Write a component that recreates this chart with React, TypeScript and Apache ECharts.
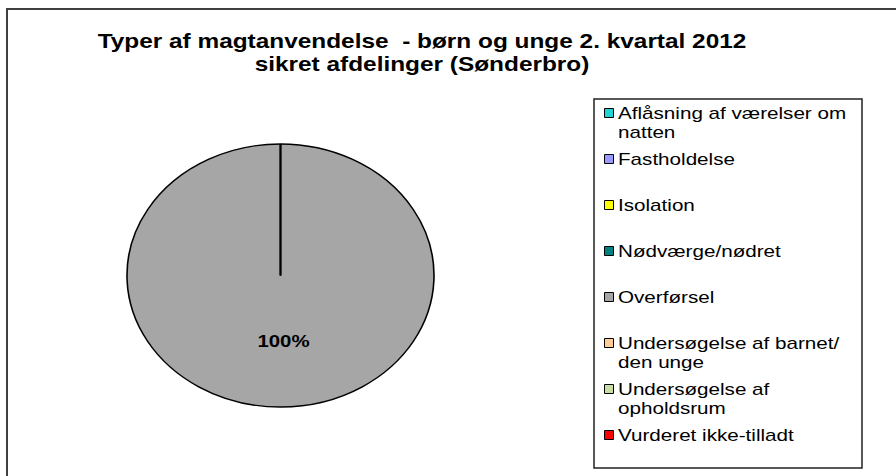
import React, { useEffect, useRef } from "react";
import * as echarts from "echarts";

// ---- data ----
const titleLines = [
  "Typer af magtanvendelse  - børn og unge 2. kvartal 2012",
  "sikret afdelinger (Sønderbro)",
];
const categories = [
  "Aflåsning af værelser om natten",
  "Fastholdelse",
  "Isolation",
  "Nødværge/nødret",
  "Overførsel",
  "Undersøgelse af barnet/den unge",
  "Undersøgelse af opholdsrum",
  "Vurderet ikke-tilladt",
];
const legendLabels = [
  "Aflåsning af værelser om\nnatten",
  "Fastholdelse",
  "Isolation",
  "Nødværge/nødret",
  "Overførsel",
  "Undersøgelse af barnet/\nden unge",
  "Undersøgelse af\nopholdsrum",
  "Vurderet ikke-tilladt",
];
const values = [0, 0, 0, 0, 100, 0, 0, 0];
const colors = [
  "#22D3D3",
  "#9999FF",
  "#FFFF00",
  "#008080",
  "#A6A6A6",
  "#FFCC99",
  "#C8DDA4",
  "#FF0000",
];

// ---- layout ----
const CX = 280.5;
const CY = 275.5;
const RX = 153.5;
const RY = 131.5;

export default function App() {
  const ref = useRef<HTMLDivElement>(null);

  useEffect(() => {
    if (!ref.current) return;
    const chart = echarts.init(ref.current, undefined, { renderer: "svg" });

    const total = values.reduce((a, b) => a + b, 0);
    const starts: number[] = [];
    let acc = 0;
    values.forEach((v) => {
      starts.push(acc);
      acc += v;
    });

    const legendFont = 'normal 16px "Liberation Sans", Arial, sans-serif';
    const legendTop = 113;
    const legendStep = 46;
    const legendEls: any[] = [];
    legendLabels.forEach((lab, i) => {
      const yc = legendTop + i * legendStep;
      legendEls.push({
        type: "rect",
        shape: { x: 604.5, y: yc - 4.5, width: 9, height: 9 },
        style: { fill: colors[i], stroke: "#000", lineWidth: 1 },
        silent: true,
      });
      legendEls.push({
        type: "text",
        x: 618,
        y: yc - 9.5,
        scaleX: 1.29,
        style: {
          text: lab,
          font: legendFont,
          fill: "#000",
          lineHeight: 19,
          align: "left",
          verticalAlign: "top",
        },
        silent: true,
      });
    });

    const titleEls = titleLines.map((t, i) => ({
      type: "text",
      x: 422,
      y: 41 + i * 23,
      scaleX: 1.22,
      style: {
        text: t,
        font: 'bold 20px "Liberation Sans", Arial, sans-serif',
        fill: "#000",
        align: "center",
        verticalAlign: "middle",
      },
      silent: true,
    }));

    chart.setOption({
      animation: false,
      backgroundColor: "#ffffff",
      graphic: [
        {
          type: "rect",
          shape: { x: 7, y: 9, width: 960, height: 520 },
          style: { fill: "none", stroke: "#404040", lineWidth: 2 },
          silent: true,
          z: -10,
        },
        ...titleEls,
        {
          type: "rect",
          shape: { x: 594, y: 99, width: 268, height: 369 },
          style: { fill: "#fff", stroke: "#222", lineWidth: 1.5 },
          silent: true,
        },
        ...legendEls,
      ],
      series: [
        {
          type: "custom",
          coordinateSystem: "none",
          data: values.map((v, i) => ({ name: categories[i], value: v })),
          renderItem: (params: any, api: any) => {
            const i = params.dataIndex;
            const v = api.value(0);
            const a0 = -Math.PI / 2 + (starts[i] / total) * 2 * Math.PI;
            const a1 = a0 + (v / total) * 2 * Math.PI;
            const children: any[] = [
              {
                type: "sector",
                x: CX,
                y: CY,
                scaleY: RY / RX,
                shape: {
                  cx: 0,
                  cy: 0,
                  r: RX,
                  r0: 0,
                  startAngle: a0,
                  endAngle: a1,
                  clockwise: true,
                },
                style: {
                  fill: colors[i],
                  stroke: "#000",
                  lineWidth: 1.6,
                  strokeNoScale: true,
                },
              },
            ];
            if (v > 0) {
              const mid = (a0 + a1) / 2;
              children.push({
                type: "text",
                x: CX + 0.5 * RX * Math.cos(mid) + 3,
                y: CY + 0.5 * RY * Math.sin(mid),
                scaleX: 1.2,
                style: {
                  text: Math.round((v / total) * 100) + "%",
                  font: 'bold 17px "Liberation Sans", Arial, sans-serif',
                  fill: "#000",
                  align: "center",
                  verticalAlign: "middle",
                },
              });
            }
            return { type: "group", children };
          },
        },
      ],
    });

    return () => chart.dispose();
  }, []);

  return (
    <div
      ref={ref}
      style={{ position: "fixed", left: 0, top: 0, width: 896, height: 476 }}
    />
  );
}
